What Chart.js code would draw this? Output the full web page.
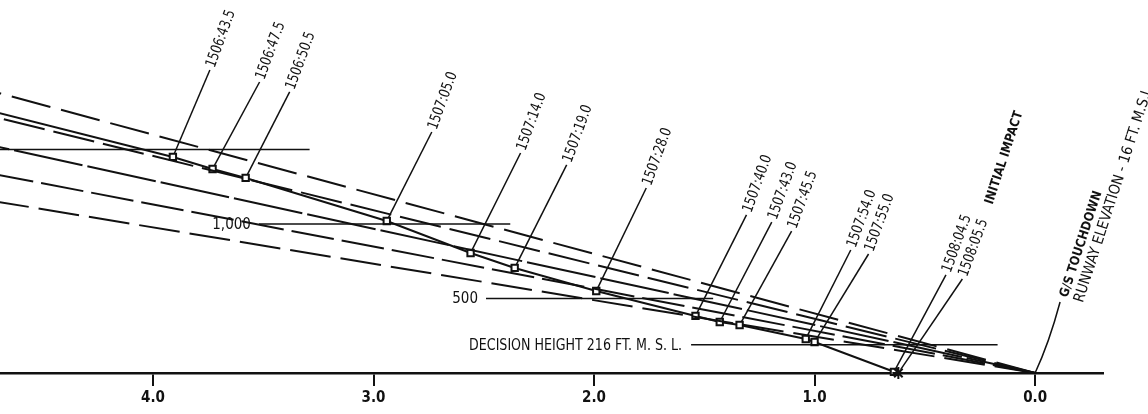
<!DOCTYPE html>
<html>
<head>
<meta charset="utf-8">
<title>Approach profile</title>
<script src="https://cdn.jsdelivr.net/npm/chart.js@4/dist/chart.umd.min.js"></script>
<style>
  html, body { margin: 0; padding: 0; background: #fff; }
  #wrap { width: 1148px; height: 414px; position: relative; }
</style>
</head>
<body>
<div id="wrap"><canvas id="profile"></canvas></div>
<script>
// recorded positions: distance from touchdown (n. mi.) and height (ft)
const trackNm = [4.70, 3.91, 3.73, 3.58, 2.94, 2.56, 2.36, 1.99, 1.54, 1.43, 1.34, 1.04, 1.00, 0.64, 0.62];
const trackFt = [1745, 1450, 1369, 1309, 1020, 805, 705, 550, 383, 342, 322, 228, 208, 8, 0];
const trackTimes = [null, '1506:43.5', '1506:47.5', '1506:50.5', '1507:05.0', '1507:14.0', '1507:19.0',
  '1507:28.0', '1507:40.0', '1507:43.0', '1507:45.5', '1507:54.0', '1507:55.0', '1508:04.5', '1508:05.5'];

// glide slope lines, all meeting at touchdown; height where each leaves the left edge
const slopeEdgeNm = 4.7;
const slopeEdgeFt = [1879, 1711, 1517, 1329, 1148];

// horizontal height marks
const markFt = [1500, 1000, 500, 190];
const markFromNm = [4.7, 3.52, 2.49, 1.56];
const markToNm = [3.29, 2.38, 1.46, 0.17];
const markLabels = ['', '1,000', '500', 'DECISION HEIGHT 216 FT. M. S. L.'];

const xTicks = [0, 1, 2, 3, 4];

const INK = '#111';
const FONT = '"DejaVu Sans Condensed", "Liberation Sans Narrow", sans-serif';

// leader line offsets (px) from each tagged point to its time tag
const leaderDx = [0, 37, 47, 44, 45, 50, 52, 50, 51, 52, 52, 45, 54, 52, 64];
const leaderDy = [0, -87, -87, -86, -89, -100, -103, -103, -101, -100, -94, -89, -88, -97, -94];

function rotText(ctx, text, x, y, deg, font, maxW) {
  ctx.save();
  ctx.translate(x, y);
  ctx.rotate(-deg * Math.PI / 180);
  ctx.font = font;
  ctx.textAlign = 'left';
  ctx.textBaseline = 'middle';
  ctx.fillText(text, 0, 0, maxW);
  ctx.restore();
}

const labelPlugin = {
  id: 'profileLabels',
  afterDatasetsDraw(chart) {
    const { ctx } = chart;
    const x = chart.scales.x, y = chart.scales.y;
    ctx.save();
    ctx.fillStyle = INK;
    ctx.strokeStyle = INK;

    // labels left of the height marks
    markLabels.forEach((txt, i) => {
      if (!txt) return;
      const px = x.getPixelForValue(markFromNm[i]);
      const py = y.getPixelForValue(markFt[i]);
      ctx.font = '15px ' + FONT;
      ctx.textAlign = 'right';
      ctx.textBaseline = 'middle';
      if (i === 3) ctx.fillText(txt, px - 9, py + 1, 213); else ctx.fillText(txt, px - 8, py + 1);
    });

    // time tags with leader lines
    trackTimes.forEach((t, i) => {
      if (!t) return;
      const px = x.getPixelForValue(trackNm[i]);
      const py = y.getPixelForValue(trackFt[i]);
      const len = Math.hypot(leaderDx[i], leaderDy[i]);
      const ux = leaderDx[i] / len, uy = leaderDy[i] / len;
      const ex = px + leaderDx[i], ey = py + leaderDy[i];
      ctx.lineWidth = 1.5;
      ctx.beginPath();
      ctx.moveTo(px + 4 * ux, py + 4 * uy);
      ctx.lineTo(ex, ey);
      ctx.stroke();
      rotText(ctx, t, ex + 1, ey - 3, 70, '15px ' + FONT, 60);
    });

    // initial impact note
    const last = trackNm.length - 1;
    const ix = x.getPixelForValue(trackNm[last]), iy = y.getPixelForValue(trackFt[last]);
    rotText(ctx, 'INITIAL IMPACT', ix + 91, iy - 169, 72, 'bold 13px ' + FONT, 97);

    // touchdown note
    const tx = x.getPixelForValue(0), ty = y.getPixelForValue(0);
    ctx.lineWidth = 1.5;
    ctx.beginPath();
    ctx.moveTo(tx, ty);
    ctx.quadraticCurveTo(tx + 14, ty - 30, tx + 25, ty - 71);
    ctx.stroke();
    rotText(ctx, 'G/S TOUCHDOWN', tx + 29, ty - 76, 72, 'bold 13px ' + FONT, 111);
    rotText(ctx, 'RUNWAY ELEVATION - 16 FT. M.S.L.', tx + 44, ty - 71, 72, '15px ' + FONT, 229);
    ctx.restore();
  }
};

const slopeDash = [[40, 11], [42, 9], [70, 5], [43, 8], [41, 10]];

const datasets = [];
slopeEdgeFt.forEach((ft, i) => {
  datasets.push({
    data: [{ x: 0, y: 0 }, { x: slopeEdgeNm, y: ft }],
    showLine: true, pointRadius: 0, borderColor: INK, borderWidth: 2,
    borderDash: slopeDash[i]
  });
});
markFt.forEach((ft, i) => {
  datasets.push({
    data: [{ x: markFromNm[i], y: ft }, { x: markToNm[i], y: ft }],
    showLine: true, pointRadius: 0, borderColor: INK, borderWidth: 1.5, clip: false
  });
});
datasets.push({
  data: trackNm.map((v, i) => ({ x: v, y: trackFt[i] })),
  showLine: true, borderColor: INK, borderWidth: 2, clip: false,
  pointStyle: trackNm.map((v, i) => (i === trackNm.length - 1 ? 'star' : 'rect')),
  pointRadius: trackNm.map((v, i) => (i === 0 ? 0 : (i === trackNm.length - 1 ? 6 : 4.5))),
  pointBackgroundColor: '#fff',
  pointBorderColor: INK,
  pointBorderWidth: 2
});

new Chart(document.getElementById('profile'), {
  type: 'scatter',
  data: { datasets },
  options: {
    responsive: true,
    maintainAspectRatio: false,
    animation: false,
    layout: { autoPadding: false, padding: { left: 0, right: 45, top: 0, bottom: 0 } },
    plugins: { legend: { display: false }, tooltip: { enabled: false } },
    scales: {
      x: {
        type: 'linear', reverse: true, min: -0.308, max: 4.694,
        afterBuildTicks: (scale) => { scale.ticks = xTicks.map(v => ({ value: v })); },
        afterFit: (scale) => { scale.height = 41; },
        grid: { drawOnChartArea: false, drawTicks: true, tickLength: 13, color: INK, lineWidth: 2 },
        border: { display: true, color: INK, width: 2.5 },
        ticks: {
          color: INK, padding: 3, maxRotation: 0,
          font: { family: FONT, size: 15, weight: 'bold' },
          callback: (v) => Number(v).toFixed(1)
        }
      },
      y: { type: 'linear', display: false, min: 0, max: 2503 }
    }
  },
  plugins: [labelPlugin]
});
</script>
</body>
</html>
